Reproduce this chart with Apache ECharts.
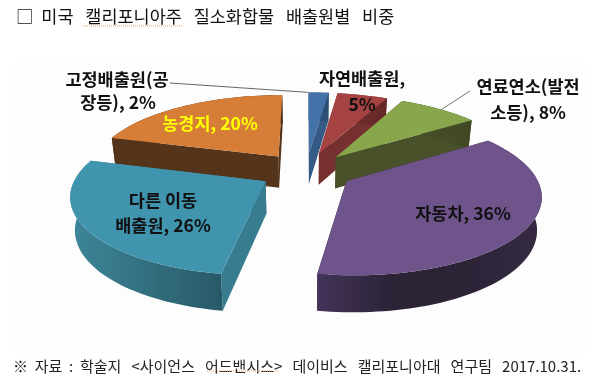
<!DOCTYPE html>
<html>
<head>
<meta charset="utf-8">
<style>
  html, body { margin: 0; padding: 0; background: #fff; }
  #chart { width: 600px; height: 382px; }
</style>
<script src="https://cdn.jsdelivr.net/npm/echarts@6/dist/echarts.min.js"></script>
</head>
<body>
<div id="chart"></div>
<script>
// values as printed on the slices, clockwise from 12 o'clock
var sliceNames = ["고정배출원(공장등)", "자연배출원", "연료연소(발전소등)", "자동차", "다른 이동 배출원", "농경지"];
var sliceValues = [2, 5, 8, 36, 26, 20];

var titleText = "□  미국   캘리포니아주   질소화합물   배출원별   비중";
var sourceText = "※  자료  :  학술지   <사이언스   어드밴시스>   데이비스   캘리포니아대   연구팀   2017.10.31.";

// styling per slice: top face, cut face, outer wall gradient
var topColors = ["#4272a8", "#a54342", "#88a64b", "#6f548c", "#4094ad", "#d67e38"];
var cutColors = ["#345a85", "#76302f", "#49512a", "#2f2539", "#387c8f", "#54341a"];
var wallColors = [
  ["#345a85", "#2c4d72"],
  ["#76302f", "#642827"],
  ["#49512a", "#414824"],
  ["#43345a", "#2c2337", "#2c2337", "#352a42"],
  ["#3d8699", "#33707f", "#275868"],
  ["#54341a", "#4a2e17"]
];
// back slices first so the front ones overlap them
var drawOrder = [0, 1, 2, 5, 4, 3];

// pie projection
var cx = 306, cy = 171, radX = 187.5, radY = 75.4, persp = 0.159, depth = 32, shrink = 0.98, explode = 0.25;

var total = sliceValues.reduce(function (a, b) { return a + b; }, 0);
var toAngle = function (v) { return echarts.number.linearMap(v, [0, total], [0, Math.PI * 2]); };

function project(a, b, bottom) {
  var w = 1 + persp * b;
  var x = radX * a / w, y = -radY * b / w;
  if (bottom) return [cx + x * shrink, cy + y * shrink + depth / w];
  return [cx + x, cy + y];
}

function sliceGeometry(i) {
  var before = 0;
  for (var k = 0; k < i; k++) before += sliceValues[k];
  var start = toAngle(before), end = toAngle(before + sliceValues[i]);
  var mid = (start + end) / 2;
  var ox = explode * Math.sin(mid), oy = explode * Math.cos(mid);
  var steps = Math.max(4, Math.round((end - start) / 0.03));
  var rim = [];
  for (var s = 0; s <= steps; s++) {
    var t = start + (end - start) * s / steps;
    rim.push([ox + Math.sin(t), oy + Math.cos(t)]);
  }
  return { ox: ox, oy: oy, rim: rim };
}

function renderSlice(params, api) {
  var i = api.value(0);
  var g = sliceGeometry(i);
  var apexTop = project(g.ox, g.oy), apexBot = project(g.ox, g.oy, true);
  var rimTop = g.rim.map(function (p) { return project(p[0], p[1]); });
  var rimBot = g.rim.map(function (p) { return project(p[0], p[1], true); });
  var last = rimTop.length - 1;
  var cols = wallColors[i];
  var wallFill = new echarts.graphic.LinearGradient(0, 0, 1, 0, cols.map(function (c, n) {
    return { offset: n / (cols.length - 1), color: c };
  }));
  return {
    type: "group",
    children: [
      { type: "polygon", shape: { points: [apexTop, rimTop[0], rimBot[0], apexBot] }, style: { fill: cutColors[i] } },
      { type: "polygon", shape: { points: [apexTop, rimTop[last], rimBot[last], apexBot] }, style: { fill: cutColors[i] } },
      { type: "polygon", shape: { points: rimTop.concat(rimBot.slice().reverse()) }, style: { fill: wallFill } },
      { type: "polygon", shape: { points: [apexTop].concat(rimTop) }, style: { fill: topColors[i] } }
    ]
  };
}

function rimPoint(i, frac) {
  var g = sliceGeometry(i);
  var p = g.rim[Math.round((g.rim.length - 1) * frac)];
  return project(p[0], p[1]);
}

function label(text, x, y, color) {
  return {
    type: "text", x: x, y: y, z: 10,
    style: { text: text, fill: color || "#111", font: "bold 17.5px 'Noto Sans CJK KR'", align: "center", verticalAlign: "middle" }
  };
}

function leader(from, to, color) {
  return { type: "line", z: 9, shape: { x1: from[0], y1: from[1], x2: to[0], y2: to[1] }, style: { stroke: color, lineWidth: 1 } };
}

var chart = echarts.init(document.getElementById("chart"), null, { renderer: "canvas" });
chart.setOption({
  animation: false,
  backgroundColor: "#fff",
  title: [
    { text: titleText, left: 11, top: 3, textStyle: { color: "#111", fontSize: 17.5, fontWeight: "normal", fontFamily: "Noto Sans CJK KR" } },
    { text: sourceText, left: 8, top: 354, textStyle: { color: "#222", fontSize: 15, fontWeight: "normal", fontFamily: "Noto Sans CJK KR" } }
  ],
  graphic: [
    { type: "rect", z: -10, shape: { x: 14, y: 62, width: 572, height: 291 }, style: { fill: "#fdfdfd" } },
    label("고정배출원(공", 117, 79),
    label("장등), 2%", 118, 102),
    label("자연배출원,", 362, 78),
    label("5%", 362, 104),
    label("연료연소(발전", 528, 86),
    label("소등), 8%", 528, 112),
    label("농경지, 20%", 210, 123, "#ffff00"),
    label("다른 이동", 163, 200),
    label("배출원, 26%", 163, 225),
    label("자동차, 36%", 463, 213),
    leader([170, 83], rimPoint(0, 0), "#666"),
    leader([470, 91], rimPoint(2, 0.5), "#777"),
    { type: "line", z: 9, shape: { x1: 83, y1: 26, x2: 183, y2: 26 }, style: { stroke: "#e8a060", lineWidth: 1, lineDash: [1, 1] } },
    { type: "line", z: 9, shape: { x1: 207, y1: 371, x2: 279, y2: 371 }, style: { stroke: "#e8a060", lineWidth: 1, lineDash: [1, 1] } }
  ],
  series: [{
    type: "custom",
    name: "질소화합물 배출원별 비중",
    coordinateSystem: "none",
    silent: true,
    renderItem: renderSlice,
    data: drawOrder.map(function (i) { return { name: sliceNames[i], value: [i, sliceValues[i]] }; })
  }]
});
</script>
</body>
</html>
